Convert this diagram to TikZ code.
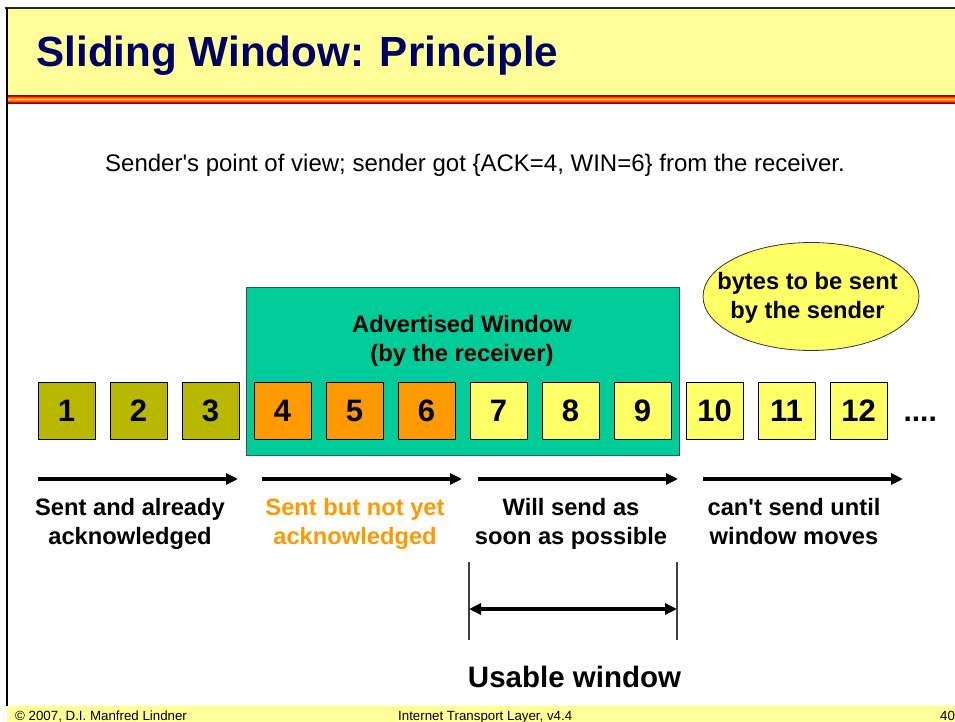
\documentclass[tikz,border=0pt]{standalone}
\usepackage{fontspec}
\setmainfont{Liberation Sans}
\usetikzlibrary{arrows.meta,shapes.geometric}
\definecolor{titleyellow}{HTML}{FFFF99}
\definecolor{titleblue}{HTML}{000066}
\definecolor{ackolive}{HTML}{B8B800}
\definecolor{sentorange}{HTML}{FF9900}
\definecolor{byteyellow}{HTML}{FFFF66}
\definecolor{wingreen}{HTML}{00CC99}
\begin{document}
\begin{tikzpicture}[x=1pt,y=-1pt,
	byte/.style={draw=black,line width=0.9pt,minimum size=57pt,inner sep=0pt,font=\bfseries\fontsize{31}{31}\selectfont},
	flow/.style={line width=3.2pt,-{Triangle[length=12pt,width=11pt]}},
	lbl/.style={align=center,font=\bfseries\fontsize{23.7}{29}\selectfont}]
	\useasboundingbox (0,0) rectangle (955,722);
	\fill[white] (0,0) rectangle (955,722);
	% title bar and footer
	\fill[titleyellow] (7,9) rectangle (955,95);
	\foreach \a/\b/\c in {95/104/red!55!black,96/103/red!85!black,97.3/101.7/orange!70!red,98.3/100.7/orange,99.1/99.9/yellow}
	{
		\fill[\c] (7,\a) rectangle (955,\b);
	}
	\fill[titleyellow] (7,706) rectangle (955,722);
	\draw[line width=2.5pt,black!85] (5,8) -- (955,8);
	\draw[line width=2pt] (7,8) -- (7,706);
	\node[anchor=base west,text=titleblue,font=\bfseries\fontsize{42.2}{50}\selectfont] (title) at (33,67) {Sliding Window: Principle};
	\node[anchor=base,font=\fontsize{24}{28}\selectfont] (view) at (475,172) {Sender\textquotesingle s point of view; sender got \{ACK=4, WIN=6\} from the receiver.};
	% advertised window
	\node[draw=black!70,line width=0.8pt,fill=wingreen,minimum width=433pt,minimum height=168pt,inner sep=0pt] (win) at (462.5,371) {};
	\node[lbl] (wintext) at (462,340.7) {\strut Advertised Window\\\strut(by the receiver)};
	\node[ellipse,draw=black!80,line width=0.8pt,fill=byteyellow,minimum width=216pt,minimum height=108pt,inner sep=0pt] (bytes) at (811,296.5) {};
	\node[lbl] (bytestext) at (807.5,297.7) {\strut bytes to be sent\\\strut by the sender};
	% the bytes
	\foreach \i/\c in {1/ackolive,2/ackolive,3/ackolive,4/sentorange,5/sentorange,6/sentorange,7/byteyellow,8/byteyellow,9/byteyellow,10/byteyellow,11/byteyellow,12/byteyellow}
	{
		\node[byte,fill=\c] (b\i) at ({66.5+72*(\i-1)},411) {\i};
	}
	\node[anchor=base west,font=\bfseries\fontsize{30}{30}\selectfont] (more) at (900,421) {....};
	% arrows and their texts
	\foreach \n/\s/\e in {1/38/238,2/262/462,3/478/678,4/703/903}
	{
		\coordinate (s\n) at (\s,479);
		\coordinate (e\n) at (\e,479);
		\draw[flow] (s\n) -- (e\n);
	}
	\node[lbl] (l1) at (130,523.7) {\strut Sent and already\\\strut acknowledged};
	\node[lbl,text=sentorange] (l2) at (355,523.7) {\strut Sent but not yet\\\strut acknowledged};
	\node[lbl] (l3) at (571,523.7) {\strut Will send as\\\strut soon as possible};
	\node[lbl] (l4) at (794,523.7) {\strut can\textquotesingle t send until\\\strut window moves};
	% usable window
	\coordinate (u1) at (469,562);
	\coordinate (u2) at (469,640);
	\coordinate (u3) at (677,562);
	\coordinate (u4) at (677,640);
	\coordinate (ua) at (469,609);
	\coordinate (ub) at (677,609);
	\draw[line width=1.2pt,black!75] (u1) -- (u2) (u3) -- (u4);
	\draw[line width=3.2pt,{Triangle[length=12pt,width=11pt]}-{Triangle[length=12pt,width=11pt]}] (ua) -- (ub);
	\node[anchor=base,font=\bfseries\fontsize{29.5}{34}\selectfont] (usable) at (574.5,687) {Usable window};
	% footer
	\node[anchor=base west,inner sep=0pt,font=\fontsize{13.3}{15}\selectfont] (copy) at (15,720) {© 2007, D.I. Manfred Lindner};
	\node[anchor=base west,inner sep=0pt,font=\fontsize{13.3}{15}\selectfont] (course) at (398,720) {Internet Transport Layer, v4.4};
	\node[anchor=base west,inner sep=0pt,font=\fontsize{13.3}{15}\selectfont] (page) at (940,720) {40};
\end{tikzpicture}
\end{document}
